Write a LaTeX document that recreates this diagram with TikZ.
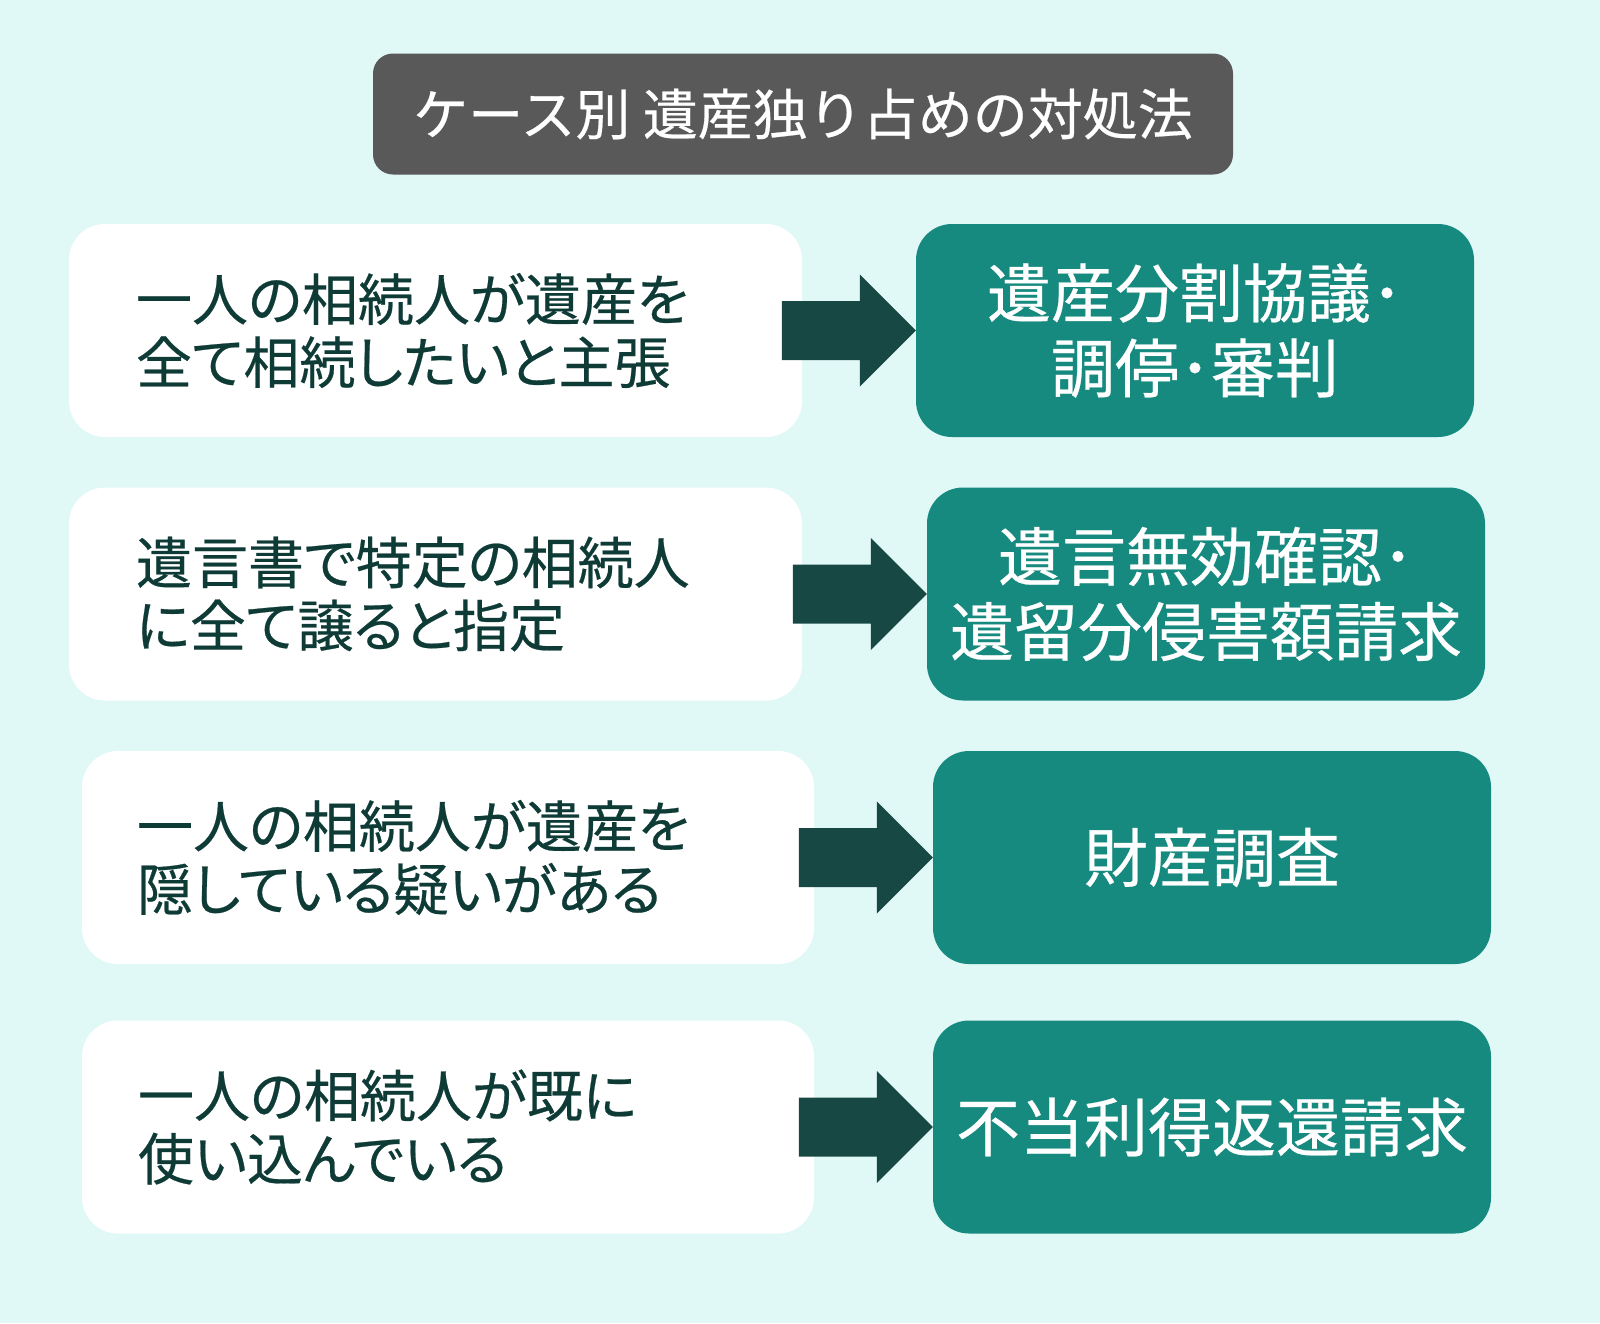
\documentclass[tikz,border=0pt]{standalone}
\usepackage{fontspec}
\setmainfont{Noto Sans CJK JP}[FakeBold=0.4]
\newfontfamily\casefont{Noto Sans CJK JP}[FakeBold=0.4, RawFeature=+palt]
\usetikzlibrary{positioning}
\definecolor{bgcyan}{HTML}{E0F8F6}
\definecolor{titlegray}{HTML}{595959}
\definecolor{answerteal}{HTML}{178A80}
\definecolor{arrowgreen}{HTML}{174843}
\definecolor{casetext}{HTML}{0E3B36}
\tikzset{titlebox/.style={fill=titlegray, text=white, rounded corners=20pt,
           minimum width=860pt, minimum height=121pt, inner sep=0pt,
           font=\fontsize{55}{60}\selectfont},
         casebox/.style={fill=white, text=casetext, rounded corners=36pt,
           minimum height=213pt, align=left, inner ysep=0pt,
           font=\casefont\fontsize{56}{63}\selectfont},
         answerbox/.style={fill=answerteal, text=white, rounded corners=36pt,
           minimum width=558pt, minimum height=213pt, align=center, inner sep=0pt,
           font=\fontsize{64}{75}\selectfont},
         flowarrow/.style={fill=arrowgreen}}

\begin{document}
\begin{tikzpicture}[x=1pt,y=-1pt]
	\fill[bgcyan] (0,0) rectangle (1600,1323);
	\useasboundingbox (0,0) rectangle (1600,1323);

	\node[titlebox] (title) at (803,114) {ケース別 遺産独り占めの対処法};

	\node[casebox, inner xsep=67pt, text width=599pt] (c1) at (435.5,330.5)
	  {一人の相続人が遺産を\\全て相続したいと主張};
	\node[casebox, inner xsep=67pt, text width=599pt] (c2) at (435.5,594)
	  {遺言書で特定の相続人\\に全て譲ると指定};
	\node[casebox, inner xsep=55pt, text width=622pt] (c3) at (448,857.5)
	  {一人の相続人が遺産を\\隠している疑いがある};
	\node[casebox, inner xsep=56pt, text width=620pt] (c4) at (448,1127)
	  {一人の相続人が既に\\使い込んでいる};

	\node[answerbox] (a1) at (1195,330.5) {遺産分割協議･\\調停･審判};
	\node[answerbox] (a2) at (1206,594) {遺言無効確認･\\遺留分侵害額請求};
	\node[answerbox] (a3) at (1212,857.5) {財産調査};
	\node[answerbox] (a4) at (1212,1127) {不当利得返還請求};

	\foreach \n in {1,...,4}
	  \fill[flowarrow] (a\n.west) -- ++(-56,-56) -- ++(0,26.5) -- ++(-78,0)
	    -- ++(0,59) -- ++(78,0) -- ++(0,26.5) -- cycle;
\end{tikzpicture}
\end{document}
